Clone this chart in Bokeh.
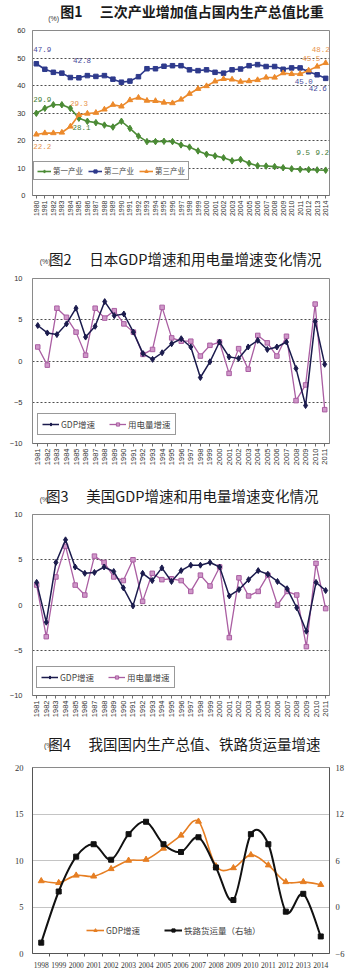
import math
from bokeh.plotting import figure
from bokeh.layouts import column
from bokeh.models import (Range1d, FixedTicker, Label, Legend, LegendItem,
                          LinearAxis, ColumnDataSource)
from bokeh.embed import file_html
from bokeh.resources import INLINE

CJK = "Noto Sans CJK SC"
NUMF = "Liberation Sans"
MONO = "Liberation Mono"
SERIF = "Liberation Serif"

# ---------------- data: chart 1 ----------------
title1 = "图1　 三次产业增加值占国内生产总值比重"
years1 = list(range(1980, 2015))
primary = [29.9, 31.7, 33.0, 33.0, 31.7, 28.1, 27.0, 26.5, 25.6, 24.9,
           27.0, 24.4, 21.6, 19.6, 19.6, 19.7, 19.6, 18.4, 17.6, 16.2,
           15.0, 14.4, 13.7, 12.6, 13.1, 11.7, 10.8, 10.7, 10.5, 10.1,
           9.7, 9.5, 9.4, 9.3, 9.2]
secondary = [47.9, 45.9, 44.8, 44.5, 42.9, 42.8, 43.6, 43.3, 43.6, 42.3,
             41.2, 41.6, 43.2, 46.1, 46.1, 47.0, 47.2, 47.2, 45.7, 45.4,
             45.7, 44.8, 44.5, 45.7, 46.0, 47.2, 47.6, 46.9, 46.9, 45.9,
             46.4, 46.4, 45.0, 43.9, 42.6]
tertiary = [22.2, 22.7, 22.7, 22.9, 25.1, 29.3, 29.8, 30.1, 31.3, 33.0,
            32.4, 34.7, 35.6, 34.5, 34.4, 33.8, 33.6, 34.9, 37.0, 38.8,
            39.8, 41.5, 42.4, 42.2, 41.4, 41.6, 42.0, 42.9, 42.9, 44.5,
            44.2, 44.2, 45.5, 46.9, 48.2]
names1 = ["第一产业", "第二产业", "第三产业"]
yticks1 = [0, 10, 20, 30, 40, 50, 60]

# ---------------- data: chart 2 (Japan) ----------------
title2 = "图2　 日本GDP增速和用电量增速变化情况"
years2 = list(range(1981, 2012))
jp_gdp = [4.3, 3.4, 3.2, 4.5, 6.4, 2.9, 4.2, 7.2, 5.5, 5.7,
          3.5, 0.9, 0.2, 1.0, 2.1, 2.7, 1.7, -2.0, -0.1, 2.3,
          0.5, 0.3, 1.7, 2.5, 1.4, 1.7, 2.3, -0.9, -5.4, 4.8, -0.4]
jp_elec = [1.7, -0.5, 6.4, 5.3, 3.5, 0.7, 6.4, 5.2, 6.1, 4.5,
           3.5, 0.8, 1.4, 6.5, 2.8, 2.4, 2.4, 0.6, 1.9, 2.3,
           -1.5, 1.5, -1.0, 3.1, 2.2, 0.6, 3.0, -4.8, -2.9, 6.9, -5.9]

# ---------------- data: chart 3 (USA) ----------------
title3 = "图3　 美国GDP增速和用电量增速变化情况"
years3 = list(range(1981, 2012))
us_gdp = [2.5, -1.9, 4.7, 7.2, 4.2, 3.5, 3.6, 4.2, 3.7, 1.9,
          -0.1, 3.5, 2.7, 4.1, 2.6, 3.8, 4.4, 4.4, 4.7, 4.2,
          1.0, 1.7, 2.8, 3.8, 3.4, 2.6, 1.8, -0.3, -2.9, 2.5, 1.6]
us_elec = [2.2, -3.5, 3.1, 6.5, 2.2, 1.1, 5.4, 4.7, 3.1, 2.7,
           5.0, 0.4, 3.5, 2.8, 2.9, 2.7, 1.5, 3.3, 2.1, 4.2,
           -3.6, 3.0, 1.0, 1.5, 3.3, 0.0, 1.5, 1.1, -4.6, 4.6, -0.4]
names23 = ["GDP增速", "用电量增速"]
yticks23 = [-10, -5, 0, 5, 10]

# ---------------- data: chart 4 (China) ----------------
title4 = "图4　 我国国内生产总值、铁路货运量增速"
years4 = list(range(1998, 2015))
cn_gdp = [7.8, 7.6, 8.4, 8.3, 9.1, 10.0, 10.1, 11.3, 12.7, 14.2,
          9.4, 9.2, 10.6, 9.5, 7.7, 7.7, 7.4]
rail = [-4.6, 2.0, 6.5, 8.1, 6.1, 9.4, 11.0, 8.1, 7.1, 9.0,
        5.1, 0.9, 9.4, 8.1, -0.6, 1.7, -3.8]
names4 = ["GDP增速", "铁路货运量（右轴）"]
yticks4_left = [0, 5, 10, 15, 20]
yticks4_right = [-6, 0, 6, 12, 18]
unit = "(%)"

# ---------------- colours ----------------
GREEN = "#4b8b35"
BLUE = "#2e3a8c"
ORANGE = "#ec8a2c"
NAVY = "#1b1b4d"
PINK = "#aa5ea2"
PINK_FILL = "#cf98c9"
ORANGE4 = "#e67e22"
BLACK = "#111111"

W = 350


def strip(height, title, tx, ty, ux, uy, bold, size):
    """A header strip holding a chart's title and unit text."""
    s = figure(width=W, height=height, x_range=Range1d(0, W), y_range=Range1d(height, 0),
               x_axis_type=None, y_axis_type=None, title=None,
               output_backend="svg", toolbar_location=None, tools="",
               min_border=0, min_border_left=0, min_border_right=0,
               min_border_top=0, min_border_bottom=0)
    s.outline_line_color = None
    s.background_fill_color = "white"
    s.border_fill_color = "white"
    s.add_layout(Label(x=tx, y=ty, text=title, text_align="center",
                       text_baseline="middle", text_font=CJK, text_font_size=size,
                       text_font_style="bold" if bold else "normal",
                       text_color="#1a1a1a"))
    s.add_layout(Label(x=ux, y=uy, text=unit, text_align="center",
                       text_baseline="middle", text_font=NUMF, text_font_size="7px",
                       text_color="#333333"))
    return s


def make_fig(height, xr, yr, left, right, top, bottom):
    p = figure(width=W, height=height, x_range=xr, y_range=yr, title=None,
               output_backend="svg", toolbar_location=None, tools="",
               min_border_left=left, min_border_right=right,
               min_border_top=top, min_border_bottom=bottom)
    p.outline_line_color = "#8a8a8a"
    p.outline_line_width = 1
    p.background_fill_color = "white"
    p.border_fill_color = "white"
    p.xgrid.visible = False
    p.yaxis.major_tick_out = 0
    p.yaxis.major_tick_in = 0
    p.yaxis.minor_tick_line_color = None
    p.xaxis.minor_tick_line_color = None
    p.xaxis.major_tick_in = 0
    p.xaxis.major_tick_out = 3
    p.xaxis.axis_line_color = "#6e6e6e"
    p.yaxis.axis_line_color = "#8a8a8a"
    p.xaxis.major_tick_line_color = "#6e6e6e"
    p.yaxis.major_label_text_color = "#333333"
    p.xaxis.major_label_text_color = "#333333"
    p.yaxis.major_label_text_font = NUMF
    p.xaxis.major_label_text_font = NUMF
    return p


def smooth(xs, ys):
    n = len(xs)
    d = dict(x0=[], y0=[], x1=[], y1=[], cx0=[], cy0=[], cx1=[], cy1=[])
    for i in range(n - 1):
        xm, ym = (xs[i - 1], ys[i - 1]) if i > 0 else (xs[i], ys[i])
        xp, yp = (xs[i + 2], ys[i + 2]) if i + 2 < n else (xs[i + 1], ys[i + 1])
        d["x0"].append(xs[i]); d["y0"].append(ys[i])
        d["x1"].append(xs[i + 1]); d["y1"].append(ys[i + 1])
        d["cx0"].append(xs[i] + (xs[i + 1] - xm) / 6.0)
        d["cy0"].append(ys[i] + (ys[i + 1] - ym) / 6.0)
        d["cx1"].append(xs[i + 1] - (xp - xs[i]) / 6.0)
        d["cy1"].append(ys[i + 1] - (yp - ys[i]) / 6.0)
    return ColumnDataSource(d)


# ================= Chart 1 =================
h1 = strip(25, title1, 188, 10, 25, 18, True, "14px")
p1 = make_fig(215, Range1d(1979.55, 2014.45), Range1d(0, 60), 31, 9, 5, 45)
p1.yaxis.ticker = FixedTicker(ticks=yticks1)
p1.ygrid.ticker = FixedTicker(ticks=yticks1[1:-1])
p1.ygrid.grid_line_dash = "2 2"
p1.ygrid.grid_line_color = "#4d4d4d"
p1.xaxis.ticker = FixedTicker(ticks=years1)
p1.xaxis.major_label_orientation = math.pi / 2
p1.xaxis.major_label_text_font_size = "7px"
p1.xaxis.major_label_standoff = 2
p1.yaxis.major_label_text_font_size = "7.5px"
p1.yaxis.major_label_standoff = 7

src1 = ColumnDataSource(dict(year=years1, primary=primary,
                             secondary=secondary, tertiary=tertiary))
items1 = []
for key, name, color, marker, size in [("primary", names1[0], GREEN, "diamond", 6.5),
                                       ("secondary", names1[1], BLUE, "square", 4.5),
                                       ("tertiary", names1[2], ORANGE, "triangle", 5.5)]:
    ln = p1.line("year", key, source=src1, line_color=color, line_width=1.6)
    sc = p1.scatter("year", key, source=src1, marker=marker, size=size,
                    fill_color=color, line_color=color)
    items1.append(LegendItem(label=name, renderers=[ln, sc]))

leg1 = Legend(items=items1, orientation="horizontal", location=(1, 15),
              label_text_font=CJK, label_text_font_size="7.5px",
              glyph_width=14, glyph_height=8, label_height=8, label_standoff=2,
              spacing=5, padding=3, margin=0,
              border_line_color="#333333", border_line_width=1,
              background_fill_color="white", background_fill_alpha=1)
p1.add_layout(leg1, "center")

series1 = dict(primary=primary, secondary=secondary, tertiary=tertiary)
lab_colors = dict(primary="#3f7c35", secondary="#4a4c9c", tertiary="#e8934a")
lab_specs = [("secondary", 1980, -3, 14, "left"),
             ("secondary", 1985, 3, 17, "center"),
             ("primary", 1980, -3, 14, "left"),
             ("tertiary", 1985, 0, 11, "center"),
             ("primary", 1985, 2.5, -9, "center"),
             ("tertiary", 1980, 6, -12.5, "center"),
             ("primary", 2011, 3, 17, "center"),
             ("primary", 2014, -3.5, 18, "center"),
             ("secondary", 2012, -5, -9.5, "center"),
             ("secondary", 2014, -8, -10.5, "center"),
             ("tertiary", 2012, 2.5, 12, "center"),
             ("tertiary", 2014, -5, 13.5, "center")]
for key, yr, dx, dy, al in lab_specs:
    v = series1[key][years1.index(yr)]
    p1.add_layout(Label(x=yr, y=v, text=f"{v:.1f}", x_offset=dx, y_offset=dy,
                        text_align=al, text_baseline="middle", text_font=MONO,
                        text_font_size="7.5px", text_color=lab_colors[key]))


# ================= Charts 2 and 3 =================
def growth_chart(height, xr, left, right, top, bottom, years, gdp, elec, leg_loc):
    p = make_fig(height, xr, Range1d(-10, 10), left, right, top, bottom)
    p.yaxis.ticker = FixedTicker(ticks=yticks23)
    p.ygrid.ticker = FixedTicker(ticks=yticks23[1:-1])
    p.ygrid.grid_line_dash = "2 2"
    p.ygrid.grid_line_color = "#4d4d4d"
    p.xaxis.ticker = FixedTicker(ticks=years)
    p.xaxis.major_label_orientation = math.pi / 2
    p.xaxis.major_label_text_font_size = "7.5px"
    p.xaxis.major_label_standoff = 2
    p.yaxis.major_label_text_font_size = "7.5px"
    p.yaxis.major_label_standoff = 10
    src = ColumnDataSource(dict(year=years, gdp=gdp, elec=elec))
    le = p.line("year", "elec", source=src, line_color=PINK, line_width=1.3)
    se = p.scatter("year", "elec", source=src, marker="square", size=4.5,
                   fill_color=PINK_FILL, line_color=PINK, line_width=1)
    lg = p.line("year", "gdp", source=src, line_color=NAVY, line_width=1.5)
    sg = p.scatter("year", "gdp", source=src, marker="diamond", size=6,
                   fill_color=NAVY, line_color=NAVY)
    leg = Legend(items=[LegendItem(label=names23[0], renderers=[lg, sg]),
                        LegendItem(label=names23[1], renderers=[le, se])],
                 orientation="horizontal", location=leg_loc,
                 label_text_font=CJK, label_text_font_size="8.5px",
                 glyph_width=17, glyph_height=8, label_height=9, label_standoff=2,
                 spacing=14, padding=4, margin=0,
                 border_line_color="#333333", border_line_width=1.2,
                 background_fill_color="white", background_fill_alpha=1)
    p.add_layout(leg, "center")
    return p


h2 = strip(33, title2, 180, 18, 15, 20.5, False, "14.5px")
p2 = growth_chart(202, Range1d(1980.45, 2011.5), 32, 13, 5, 32, years2,
                  jp_gdp, jp_elec, (5, 8))
h3 = strip(34, title3, 176.5, 20, 15, 24, False, "14.5px")
p3 = growth_chart(216, Range1d(1980.57, 2011.4), 27, 11, 5, 30, years3,
                  us_gdp, us_elec, (4, 7))

# ================= Chart 4 =================
h4 = strip(37, title4, 179, 18, 20, 20, False, "14.5px")
p4 = make_fig(215, Range1d(1997.5, 2014.5), Range1d(0, 20), 31, 21, 5, 24)
p4.extra_y_ranges = {"right": Range1d(-6, 18)}
p4.yaxis.ticker = FixedTicker(ticks=yticks4_left)
p4.ygrid.ticker = FixedTicker(ticks=yticks4_left[1:-1])
p4.ygrid.grid_line_color = "#c4c4c4"
p4.ygrid.grid_line_width = 1
p4.yaxis.major_label_text_font = SERIF
p4.yaxis.major_label_text_font_size = "8.5px"
p4.yaxis.major_label_standoff = 9
p4.yaxis.axis_line_color = "#555555"
ax_r = LinearAxis(y_range_name="right", ticker=FixedTicker(ticks=yticks4_right),
                  major_tick_out=0, major_tick_in=0, minor_tick_line_color=None,
                  major_label_text_font=SERIF, major_label_text_font_size="8.5px",
                  major_label_text_color="#333333", major_label_standoff=6,
                  axis_line_color="#555555")
p4.add_layout(ax_r, "right")
p4.xaxis.ticker = FixedTicker(ticks=years4, minor_ticks=[y + 0.5 for y in years4[:-1]])
p4.xaxis.major_tick_out = 0
p4.xaxis.minor_tick_line_color = "#555555"
p4.xaxis.minor_tick_out = 3
p4.xaxis.minor_tick_in = 0
p4.xaxis.axis_line_color = "#555555"
p4.xaxis.major_label_text_font = SERIF
p4.xaxis.major_label_text_font_size = "7.5px"
p4.xaxis.major_label_standoff = 5

src4 = ColumnDataSource(dict(year=years4, gdp=cn_gdp, rail=rail))
g_bz = p4.bezier(x0="x0", y0="y0", x1="x1", y1="y1", cx0="cx0", cy0="cy0", cx1="cx1",
                 cy1="cy1", source=smooth(years4, cn_gdp), line_color=ORANGE4,
                 line_width=1.6)
g_sc = p4.scatter("year", "gdp", source=src4, marker="triangle", size=6,
                  fill_color=ORANGE4, line_color=ORANGE4)
r_bz = p4.bezier(x0="x0", y0="y0", x1="x1", y1="y1", cx0="cx0", cy0="cy0", cx1="cx1",
                 cy1="cy1", source=smooth(years4, rail), line_color=BLACK, line_width=2,
                 y_range_name="right")
r_sc = p4.scatter("year", "rail", source=src4, marker="square", size=5,
                  fill_color=BLACK, line_color=BLACK, y_range_name="right")
leg4 = Legend(items=[LegendItem(label=names4[0], renderers=[g_bz, g_sc]),
                     LegendItem(label=names4[1], renderers=[r_bz, r_sc])],
              orientation="horizontal", location=(54, 17),
              label_text_font=CJK, label_text_font_size="8.5px",
              glyph_width=18, glyph_height=8, label_height=9, label_standoff=2,
              spacing=24, padding=0, margin=0,
              border_line_color=None, background_fill_alpha=0)
p4.add_layout(leg4, "center")

layout = column(h1, p1, h2, p2, h3, p3, h4, p4, spacing=0)
open("out.html", "w").write(file_html(layout, INLINE))
